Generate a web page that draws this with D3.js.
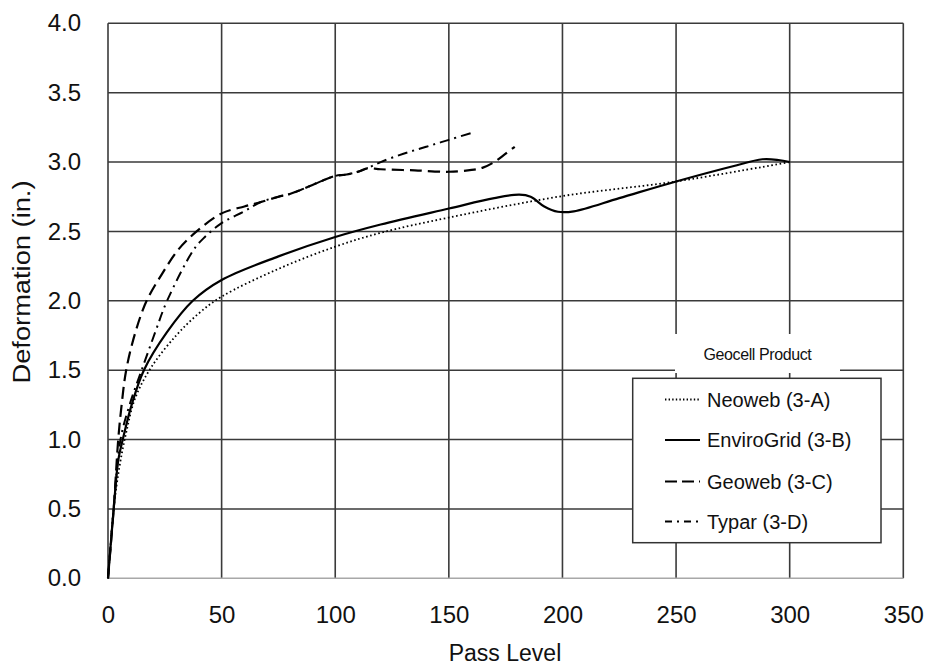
<!DOCTYPE html>
<html>
<head>
<meta charset="utf-8">
<script src="https://cdn.jsdelivr.net/npm/d3@7"></script>
<style>
  html, body { margin: 0; padding: 0; background: #fff; }
  svg { display: block; }
  text { font-family: Arial, "Liberation Sans", Helvetica, sans-serif; fill: #111; }
</style>
</head>
<body>
<svg id="chart" width="930" height="668"></svg>
<script>
// Deformation vs pass level for four geocell products: [pass level, deformation (in.)]
const neoweb = [[0,0],[2.5,0.5],[5,0.8],[8,1.05],[12,1.3],[19,1.52],[30,1.75],[40,1.91],[50,2.03],[75,2.23],[100,2.39],[120,2.49],[150,2.6],[200,2.755],[250,2.86],[300,3.0]];
const enviroGrid = [[0,0],[2.5,0.5],[4.5,0.85],[6.5,1.0],[10.4,1.25],[15.8,1.5],[25.8,1.77],[37.3,2.0],[50,2.15],[75,2.32],[100,2.46],[120,2.55],[150,2.665],[170,2.74],[181,2.765],[186,2.75],[192,2.68],[198,2.642],[205,2.645],[225,2.74],[250,2.86],[275,2.97],[288,3.02],[295,3.015],[300,3.0]];
const geoweb = [[0,0],[2.5,0.5],[4.5,1.0],[6,1.25],[8,1.5],[12,1.77],[17,2.0],[24,2.2],[31,2.37],[39,2.5],[50,2.63],[60,2.68],[67,2.71],[75,2.75],[80,2.77],[85,2.8],[90,2.835],[95,2.87],[100,2.9],[105,2.91],[110,2.93],[114,2.955],[120,2.948],[135,2.94],[150,2.93],[160,2.943],[165,2.96],[170,3.0],[175,3.06],[179,3.11]];
const typar = [[0,0],[2.5,0.5],[5.5,1.0],[9.5,1.25],[14.8,1.5],[20.7,1.77],[26,2.0],[37.6,2.366],[42,2.45],[50,2.56],[60,2.645],[67,2.71],[75,2.75],[80,2.77],[85,2.8],[90,2.835],[95,2.87],[100,2.9],[105,2.91],[110,2.93],[114,2.955],[120,3.0],[130,3.06],[140,3.11],[150,3.16],[160,3.21]];

const seriesNames = ["Neoweb (3-A)", "EnviroGrid (3-B)", "Geoweb (3-C)", "Typar (3-D)"];
const seriesData = [neoweb, enviroGrid, geoweb, typar];
const seriesDash = ["1.6,2.6", null, "12,6", "10,5,2,5"];
const seriesWidth = [1.8, 2.2, 2.2, 2.0];
const legendDash = ["1.4,2.2", null, "12,5", "7,5,2,5"];

const xTicks = [0, 50, 100, 150, 200, 250, 300, 350];
const yTicks = [0, 0.5, 1.0, 1.5, 2.0, 2.5, 3.0, 3.5, 4.0];
const legendTitle = "Geocell Product";
const xTitle = "Pass Level";
const yTitle = "Deformation (in.)";

const svg = d3.select("#chart");
const m = { left: 108, top: 23.3, right: 903.3, bottom: 578.3 };

const x = d3.scaleLinear().domain([0, 350]).range([m.left, m.right]);
const y = d3.scaleLinear().domain([0, 4]).range([m.bottom, m.top]);

// grid
const grid = svg.append("g");
grid.selectAll("line.v").data(xTicks).join("line")
  .attr("x1", d => x(d)).attr("x2", d => x(d))
  .attr("y1", m.top).attr("y2", m.bottom)
  .attr("stroke", "#3a3a3a").attr("stroke-width", 1.6);
grid.selectAll("line.h").data(yTicks.filter(d => d > 0)).join("line")
  .attr("x1", m.left).attr("x2", m.right)
  .attr("y1", d => y(d)).attr("y2", d => y(d))
  .attr("stroke", "#3a3a3a").attr("stroke-width", 1.6);
// bottom axis line
grid.append("line")
  .attr("x1", m.left).attr("x2", m.right)
  .attr("y1", y(0)).attr("y2", y(0))
  .attr("stroke", "#a8a8a8").attr("stroke-width", 1.6);

// tick labels via d3 axes (domain and tick marks hidden)
const xAxis = svg.append("g").attr("transform", `translate(0,${m.bottom})`)
  .call(d3.axisBottom(x).tickValues(xTicks).tickSize(0).tickPadding(28).tickFormat(d3.format("d")));
xAxis.select(".domain").remove();
xAxis.selectAll("text").attr("font-size", 24).attr("fill", "#111")
  .attr("font-family", "Arial, 'Liberation Sans', sans-serif");

const yAxis = svg.append("g").attr("transform", `translate(${m.left},0)`)
  .call(d3.axisLeft(y).tickValues(yTicks).tickSize(0).tickPadding(27).tickFormat(d3.format(".1f")));
yAxis.select(".domain").remove();
yAxis.selectAll("text").attr("font-size", 24).attr("fill", "#111")
  .attr("font-family", "Arial, 'Liberation Sans', sans-serif");

// axis titles
svg.append("text")
  .attr("x", 505).attr("y", 661)
  .attr("text-anchor", "middle").attr("font-size", 23)
  .text(xTitle);
svg.append("text")
  .attr("transform", "translate(30,282) rotate(-90)")
  .attr("text-anchor", "middle").attr("font-size", 23)
  .attr("textLength", 203).attr("lengthAdjust", "spacingAndGlyphs")
  .text(yTitle);

// series lines
const line = d3.line().x(d => x(d[0])).y(d => y(d[1])).curve(d3.curveCatmullRom.alpha(0.5));
const lines = svg.append("g");
seriesData.forEach((data, i) => {
  lines.append("path")
    .datum(data)
    .attr("d", line)
    .attr("fill", "none")
    .attr("stroke", "#000")
    .attr("stroke-width", seriesWidth[i])
    .attr("stroke-dasharray", seriesDash[i]);
});

// legend
const lg = svg.append("g");
lg.append("rect")
  .attr("x", 675).attr("y", 334).attr("width", 165).attr("height", 39)
  .attr("fill", "#fff");
lg.append("text")
  .attr("x", 757.5).attr("y", 360).attr("text-anchor", "middle")
  .attr("font-size", 16).attr("letter-spacing", -0.4)
  .text(legendTitle);
lg.append("rect")
  .attr("x", 632.7).attr("y", 378.3).attr("width", 248.3).attr("height", 164.4)
  .attr("fill", "#fff").attr("stroke", "#333").attr("stroke-width", 1.5);

const rowY = [399.5, 440, 481.5, 521.5];
seriesNames.forEach((name, i) => {
  lg.append("line")
    .attr("x1", 665).attr("x2", 700)
    .attr("y1", rowY[i]).attr("y2", rowY[i])
    .attr("stroke", "#000")
    .attr("stroke-width", seriesWidth[i])
    .attr("stroke-dasharray", legendDash[i]);
  lg.append("text")
    .attr("x", 707).attr("y", rowY[i] + 7)
    .attr("font-size", 20)
    .text(name);
});
</script>
</body>
</html>
